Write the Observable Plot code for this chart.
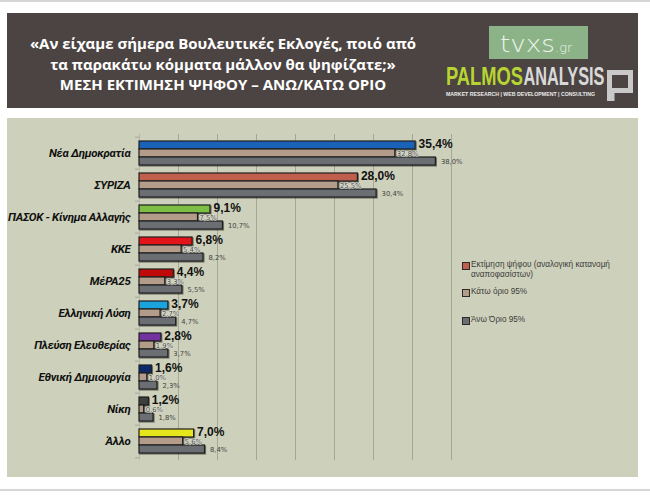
<!DOCTYPE html>
<html>
<head>
<meta charset="utf-8">
<script src="https://cdn.jsdelivr.net/npm/d3@7"></script>
<script src="https://cdn.jsdelivr.net/npm/@observablehq/plot@0.6"></script>
<style>
  html, body { margin: 0; padding: 0; background: #ffffff; }
  body { width: 650px; height: 495px; position: relative; overflow: hidden; font-family: "Liberation Sans", Arial, sans-serif; }
  #topline { position: absolute; left: 0; top: 0; width: 650px; height: 2px; background: #d6d6d6; }
  #botline { position: absolute; left: 0; top: 489px; width: 650px; height: 2px; background: #d6d6d6; }
  #header { position: absolute; left: 7px; top: 13px; width: 631px; height: 95px; background: #4b4442; }
  #title { position: absolute; left: 0; top: 0; width: 432px; padding-top: 20px; text-align: center; color: #ffffff;
           font-family: "Open Sans", sans-serif; font-weight: 700; font-size: 15px; line-height: 20.5px; }
  #logo { position: absolute; left: 0; top: 0; }
  #panel { position: absolute; left: 7px; top: 118px; width: 631px; height: 359px; background: #cdd0ba; }
  #chart { position: absolute; left: 0; top: 0; }
  #legend { position: absolute; left: 455px; top: 0; width: 176px; font-family: "Liberation Sans", Arial, sans-serif; font-size: 8.2px; color: #3c3c3c; }
  .li { position: absolute; left: 0; width: 176px; line-height: 9.5px; }
  .sw { position: absolute; left: 0; top: 1.5px; width: 6px; height: 6px; border: 1px solid #2a2a2a; }
  .lt { position: absolute; left: 9px; top: 0; width: 170px; }
  g[aria-label="bar"] rect { filter: drop-shadow(1.2px 1.2px 0.4px rgba(0,0,0,0.45)); }
  g[aria-label="y-axis tick label"] { font-family: Roboto, "Liberation Sans", sans-serif; font-weight: bold; font-style: italic; font-size: 11.5px; letter-spacing: -0.3px; fill: #111; }
</style>
</head>
<body>
<div id="topline"></div>
<div id="botline"></div>
<div id="header">
  <div id="title">«Αν είχαμε σήμερα Βουλευτικές Εκλογές, ποιό από<br>τα παρακάτω κόμματα μάλλον θα ψηφίζατε;»<br>ΜΕΣΗ ΕΚΤΙΜΗΣΗ ΨΗΦΟΥ – ΑΝΩ/ΚΑΤΩ ΟΡΙΟ</div>
  <svg id="logo" width="631" height="95">
    <rect x="482" y="13" width="99" height="33" fill="#8cb388"></rect>
    <text x="493" y="39" font-family="DejaVu Sans" font-weight="200" fill="#eef3ea"><tspan font-size="23" textLength="55" lengthAdjust="spacingAndGlyphs">tvxs</tspan><tspan font-size="13">.gr</tspan></text>
    <text transform="translate(439,72) scale(1,1.3)" x="0" y="0" font-family="Liberation Sans" font-weight="bold" font-size="20" fill="#b7d433" textLength="77" lengthAdjust="spacingAndGlyphs">PALMOS</text>
    <text transform="translate(516.5,72) scale(1,1.3)" x="0" y="0" font-family="Liberation Sans" font-weight="bold" font-size="20" fill="#d9d9d9" textLength="81" lengthAdjust="spacingAndGlyphs">ANALYSIS</text>
    <text x="439" y="83" font-family="Liberation Sans" font-weight="bold" font-size="5.3" fill="#ececec" textLength="149" lengthAdjust="spacingAndGlyphs">MARKET RESEARCH | WEB DEVELOPMENT | CONSULTING</text>
    <rect x="602.5" y="59.5" width="21" height="18" fill="none" stroke="#c9c9c9" stroke-width="5"></rect>
    <rect x="600" y="75" width="7.5" height="13" fill="#c9c9c9"></rect>
  </svg>
</div>
<div id="panel">
  <div id="chart"></div>
  <div id="legend">
    <div class="li" style="top:142px"><div class="sw" style="background:#c0604c"></div><div class="lt">Εκτίμηση ψήφου (αναλογική κατανομή<br>αναποφασίστων)</div></div>
    <div class="li" style="top:169px"><div class="sw" style="background:#b39d8a"></div><div class="lt">Κάτω όριο 95%</div></div>
    <div class="li" style="top:197px"><div class="sw" style="background:#6b6e72"></div><div class="lt">Άνω Όριο 95%</div></div>
  </div>
</div>
<script>
const parties = ["Νέα Δημοκρατία","ΣΥΡΙΖΑ","ΠΑΣΟΚ - Κίνημα Αλλαγής","ΚΚΕ","ΜέΡΑ25","Ελληνική Λύση","Πλεύση Ελευθερίας","Εθνική Δημιουργία","Νίκη","Άλλο"];
const estimate = [35.4, 28.0, 9.1, 6.8, 4.4, 3.7, 2.8, 1.6, 1.2, 7.0];
const lower    = [32.8, 25.5, 7.5, 5.4, 3.3, 2.7, 1.9, 1.0, 0.6, 5.6];
const upper    = [38.0, 30.4, 10.7, 8.2, 5.5, 4.7, 3.7, 2.3, 1.8, 8.4];
const partyColors = ["#1a62b8","#c0604c","#7cbf44","#e3151a","#c00a0a","#1aa3dc","#7232a0","#0a2a6c","#3e3e3e","#e6e61c"];
const lowerColor = "#b39d8a";
const upperColor = "#6b6e72";
const gridTicks = [0, 5, 10, 15, 20, 25, 30, 35, 40];

const data = parties.map((p, i) => ({party: p, est: estimate[i], lo: lower[i], hi: upper[i], color: partyColors[i]}));
const fmt = v => v.toFixed(1).replace(".", ",") + "%";

const W = 631, H = 359, mt = 16, mb = 17, ml = 132, mr = 187;
const step = (H - mt - mb) / parties.length;
const barH = 8;
const pin = 1 - barH / step;

const chart = Plot.plot({
  width: W, height: H,
  marginTop: mt, marginBottom: mb, marginLeft: ml, marginRight: mr,
  style: {background: "transparent", fontFamily: "Liberation Sans, Arial, sans-serif", overflow: "visible"},
  x: {domain: [0, 40], axis: null},
  y: {domain: parties, paddingInner: pin, paddingOuter: pin / 2, tickSize: 0, tickPadding: 9, label: null},
  marks: [
    Plot.ruleX(gridTicks, {x: d => d, stroke: d => d === 0 ? "#b5b7a8" : "#a6a897", strokeWidth: 1}),
    Plot.ruleY(parties, {y: d => d, x1: 0, x2: 0, insetLeft: -4, dy: -step / 2, stroke: "#a6a897"}),
    Plot.ruleY([parties[parties.length - 1]], {y: d => d, x1: 0, x2: 0, insetLeft: -4, dy: step / 2, stroke: "#a6a897"}),
    Plot.barX(data, {y: "party", x1: 0, x2: "est", fill: "color", stroke: "#1e1e1e", strokeWidth: 1.2, dy: -barH}),
    Plot.barX(data, {y: "party", x1: 0, x2: "lo", fill: lowerColor, stroke: "#1e1e1e", strokeWidth: 1.2}),
    Plot.barX(data, {y: "party", x1: 0, x2: "hi", fill: upperColor, stroke: "#1e1e1e", strokeWidth: 1.2, dy: barH}),
    Plot.text(data, {y: "party", x: "est", text: d => fmt(d.est), dx: 3, dy: -barH - 1, textAnchor: "start", fontWeight: "bold", fontSize: 12, fill: "#111"}),
    Plot.text(data, {y: "party", x: "lo", text: d => fmt(d.lo), dx: 1.5, dy: 0.5, textAnchor: "start", fontSize: 6.8, fontFamily: "DejaVu Sans", fill: "#444", stroke: "#e4e4dc", strokeWidth: 0.9}),
    Plot.text(data, {y: "party", x: "hi", text: d => fmt(d.hi), dx: 5, dy: barH + 0.5, textAnchor: "start", fontSize: 6.8, fontFamily: "DejaVu Sans", fill: "#454545"})
  ]
});
document.getElementById("chart").appendChild(chart);
</script>
</body>
</html>
